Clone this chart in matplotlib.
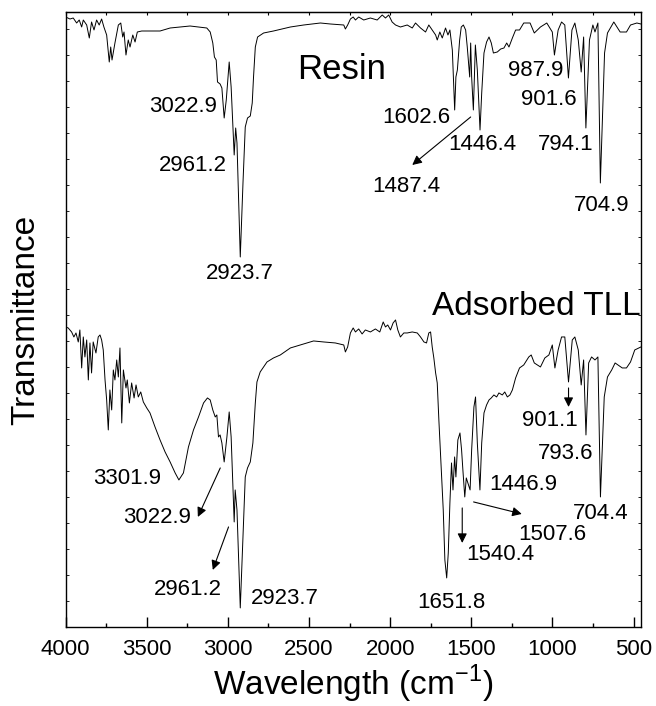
import matplotlib
matplotlib.use("Agg")
import matplotlib.pyplot as plt
from matplotlib.ticker import MultipleLocator, NullFormatter

plt.rcParams['font.family'] = ['Liberation Sans', 'DejaVu Sans']

# wavenumber (cm-1) and transmittance (a.u.)
resin_wn = [4000, 3973, 3953, 3932, 3916, 3901, 3891, 3870, 3854, 3840, 3825, 3809, 3793, 3778, 3764,
            3747, 3731, 3722, 3714, 3696, 3675, 3660, 3648, 3640, 3628, 3614, 3603, 3586, 3572, 3558,
            3531, 3480, 3418, 3356, 3233, 3130, 3109, 3093, 3083, 3072, 3064, 3048, 3037, 3022.9, 3010,
            2992, 2980, 2961.2, 2952, 2944, 2923.7, 2907, 2893, 2879, 2862, 2850, 2842, 2831, 2817, 2780,
            2719, 2615, 2533, 2430, 2368, 2286, 2276, 2262, 2245, 2228, 2214, 2194, 2163, 2122, 2080,
            2049, 2029, 2009, 1988, 1967, 1937, 1895, 1864, 1844, 1813, 1782, 1762, 1741, 1720, 1710,
            1694, 1679, 1659, 1644, 1632, 1617, 1602.6, 1595, 1586, 1572, 1562, 1549, 1535, 1525, 1510,
            1504, 1498, 1487.4, 1475, 1463, 1446.4, 1436, 1422, 1406, 1391, 1377, 1364, 1340, 1319, 1299,
            1282, 1268, 1247, 1227, 1203, 1177, 1138, 1112, 1074, 1035, 1001, 987.9, 965, 944, 924,
            901.6, 880, 862, 841, 823, 808, 794.1, 772, 751, 738, 720, 704.9, 679, 661, 640,
            622, 583, 544, 519, 480, 455]
resin_t = [610, 608, 609, 604, 607, 600, 607, 602, 589, 605, 597, 607, 602, 608, 600,
           592, 565, 580, 567, 584, 602, 604, 590, 595, 572, 587, 580, 592, 585, 595,
           596, 596, 596, 599, 601, 599, 595, 584, 570, 567, 545, 543, 539, 509, 527,
           565, 540, 472, 499, 484, 370, 444, 500, 509, 511, 524, 550, 580, 590, 594,
           596, 600, 602, 604, 603, 602, 598, 602, 608, 610, 607, 610, 607, 609, 607,
           612, 609, 612, 605, 602, 600, 602, 599, 604, 599, 595, 602, 597, 592, 587,
           595, 589, 599, 592, 597, 577, 517, 550, 557, 587, 600, 602, 597, 580, 550,
           584, 550, 517, 582, 557, 497, 534, 574, 585, 590, 584, 574, 575, 578, 579,
           584, 580, 589, 597, 597, 604, 604, 594, 600, 604, 595, 572, 597, 605, 602,
           549, 597, 604, 587, 555, 590, 499, 587, 602, 595, 604, 444, 574, 594, 600,
           605, 595, 595, 602, 604, 603]

tll_wn = [4000, 3984, 3963, 3949, 3936, 3922, 3912, 3901, 3891, 3881, 3870, 3860, 3850, 3840, 3830,
          3813, 3799, 3788, 3778, 3768, 3757, 3747, 3737, 3727, 3716, 3706, 3696, 3685, 3675, 3665,
          3654, 3644, 3628, 3620, 3607, 3593, 3578, 3566, 3552, 3537, 3521, 3500, 3480, 3449, 3418,
          3387, 3356, 3325, 3301.9, 3274, 3243, 3212, 3181, 3150, 3126, 3109, 3093, 3078, 3068, 3058,
          3048, 3037, 3022.9, 3006, 2992, 2980, 2961.2, 2955, 2944, 2923.7, 2907, 2893, 2879, 2862, 2846,
          2831, 2821, 2801, 2759, 2719, 2677, 2615, 2554, 2512, 2472, 2410, 2338, 2286, 2276, 2262,
          2245, 2228, 2214, 2194, 2173, 2153, 2122, 2091, 2064, 2043, 2029, 2015, 1998, 1982, 1967,
          1953, 1937, 1916, 1895, 1864, 1833, 1813, 1792, 1776, 1762, 1751, 1741, 1731, 1720, 1710,
          1700, 1685, 1673, 1663, 1651.8, 1642, 1632, 1622, 1613, 1603, 1595, 1583, 1570, 1560, 1552,
          1540.4, 1531, 1521, 1507.6, 1498, 1484, 1474, 1463, 1446.9, 1436, 1422, 1406, 1391, 1377, 1361,
          1344, 1330, 1309, 1294, 1278, 1262, 1247, 1227, 1203, 1177, 1146, 1131, 1112, 1074, 1047,
          1022, 1001, 985, 965, 944, 924, 901.1, 878, 862, 841, 823, 808, 793.6, 777, 759,
          738, 720, 704.4, 681, 661, 635, 614, 596, 570, 544, 519, 493, 455]
tll_t = [300, 299, 295, 290, 294, 285, 297, 259, 290, 270, 287, 247, 284, 254, 285,
         274, 290, 292, 287, 277, 247, 227, 197, 237, 217, 257, 247, 267, 250, 279,
         204, 257, 239, 247, 224, 244, 229, 242, 230, 235, 225, 219, 214, 200, 187,
         175, 165, 154, 147, 154, 180, 197, 210, 224, 229, 227, 217, 210, 212, 190,
         192, 184, 165, 190, 215, 190, 105, 137, 117, 19, 90, 150, 159, 165, 184,
         224, 245, 255, 265, 269, 272, 279, 282, 284, 286, 285, 284, 282, 275, 280,
         294, 299, 295, 298, 293, 297, 295, 298, 295, 305, 300, 302, 297, 304, 307,
         297, 290, 294, 294, 295, 294, 290, 285, 284, 294, 295, 280, 269, 254, 244,
         207, 157, 117, 67, 49, 74, 124, 164, 137, 170, 150, 187, 194, 177, 157,
         130, 149, 144, 137, 177, 220, 230, 184, 137, 184, 214, 222, 227, 229, 232,
         230, 234, 232, 235, 230, 232, 237, 249, 259, 262, 270, 272, 264, 260, 269,
         272, 282, 259, 277, 290, 290, 245, 287, 290, 277, 242, 267, 192, 264, 270,
         267, 270, 130, 230, 250, 257, 264, 262, 259, 259, 265, 277, 280]

# peak labels: text, label position (wn, t)
resin_labels = ["3022.9", "2961.2", "2923.7", "1602.6", "1446.4", "987.9", "901.6", "794.1", "704.9"]
resin_label_wn = [3276, 3217, 2924, 1841, 1433, 1103, 1023, 918, 699]
resin_label_t = [520, 461, 353, 509, 482, 556, 527, 482, 421]

tll_labels = ["3301.9", "2923.7", "1651.8", "1446.9", "793.6", "704.4"]
tll_label_wn = [3619, 2649, 1625, 1183, 918, 702]
tll_label_t = [148, 28, 24, 142, 173, 113]

# labels with arrows: text, text position, arrow tail, arrow head
arrow_labels = ["1487.4", "3022.9", "2961.2", "1540.4", "1507.6", "901.1"]
arrow_text_wn = [1899, 3436, 3245, 1319, 1004, 1017]
arrow_text_t = [440, 109, 37, 72, 92, 206]
arrow_tail_wn = [1504, 3047, 2996, 1556, 1486, 901]
arrow_tail_t = [510, 159, 100, 119, 125, 239]
arrow_head_wn = [1864, 3185, 3093, 1556, 1189, 901]
arrow_head_t = [462, 110, 57, 84, 113, 220]

fig = plt.figure(figsize=(6.56, 7.06), dpi=100)
ax = fig.add_axes([0.100, 0.112, 0.877, 0.871])

ax.plot(resin_wn, resin_t, color='k', lw=0.7)
ax.plot(tll_wn, tll_t, color='k', lw=0.7)

ax.text(2298, 557, "Resin", fontsize=25, ha='center', va='center')
ax.text(1100, 320, "Adsorbed TLL", fontsize=24, ha='center', va='center')

for s, x, y in zip(resin_labels + tll_labels, resin_label_wn + tll_label_wn, resin_label_t + tll_label_t):
    ax.text(x, y, s, fontsize=16, ha='center', va='center')

for i, s in enumerate(arrow_labels):
    ax.text(arrow_text_wn[i], arrow_text_t[i], s, fontsize=16, ha='center', va='center')
    ax.annotate("", xy=(arrow_head_wn[i], arrow_head_t[i]),
                xytext=(arrow_tail_wn[i], arrow_tail_t[i]),
                arrowprops=dict(arrowstyle='-|>', color='k', lw=0.8,
                                mutation_scale=14, shrinkA=0, shrinkB=0))

ax.set_xlim(4000, 455)
ax.set_ylim(0, 615)
ax.xaxis.set_major_locator(MultipleLocator(500))
ax.xaxis.set_minor_locator(MultipleLocator(250))
ax.yaxis.set_major_locator(MultipleLocator(26))
ax.yaxis.set_major_formatter(NullFormatter())
ax.tick_params(axis='x', which='major', direction='in', length=7, width=1, labelsize=16, pad=9)
ax.tick_params(axis='x', which='minor', direction='in', length=3, width=1)
ax.tick_params(axis='y', which='major', direction='in', length=2, width=0.6, right=True)

top = ax.secondary_xaxis('top')
top.xaxis.set_major_locator(MultipleLocator(250))
top.tick_params(direction='in', length=2.5, width=0.8, labeltop=False)

for sp in ax.spines.values():
    sp.set_linewidth(1.0)

ax.set_xlabel("Wavelength (cm$^{\\mathregular{-1}}$)", fontsize=24, labelpad=2)
ax.set_ylabel("Transmittance", fontsize=24, labelpad=14)

fig.savefig("out.png", dpi=100)
